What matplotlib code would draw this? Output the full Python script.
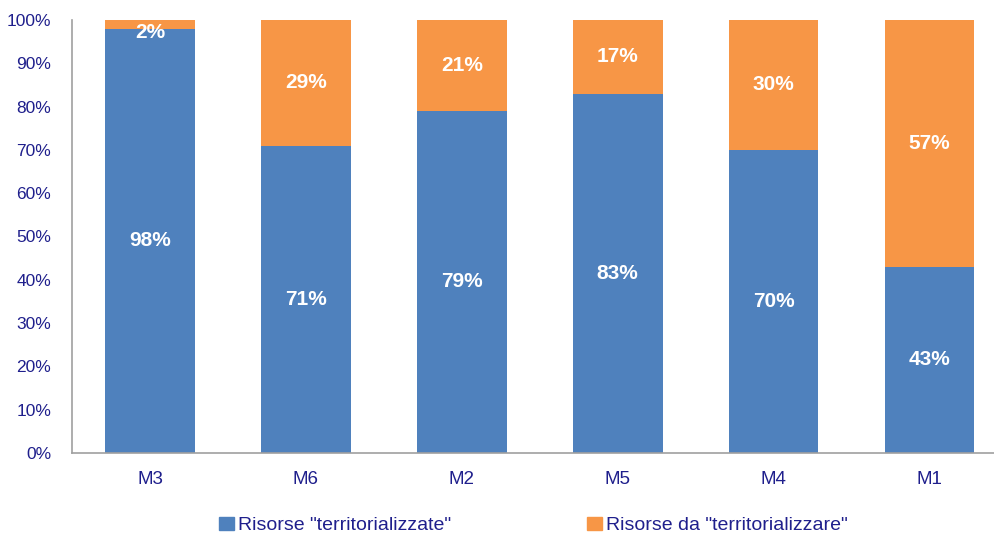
import numpy as np
import matplotlib.pyplot as plt
from matplotlib.patches import Patch

plt.rcParams['font.family'] = ['Liberation Sans', 'DejaVu Sans']

missions = ['M3', 'M6', 'M2', 'M5', 'M4', 'M1']
territorializzate = [98, 71, 79, 83, 70, 43]
da_territorializzare = [2, 29, 21, 17, 30, 57]

blue = '#4F81BD'
orange = '#F79646'
navy = '#1F1F8C'

fig = plt.figure(figsize=(9.95, 5.33), dpi=100)
ax = fig.add_axes([72 / 995, 80 / 533, (995 - 72) / 995, 433 / 533])

x = np.arange(len(missions))
width = 0.575
b1 = ax.bar(x, territorializzate, width, color=blue)
b2 = ax.bar(x, da_territorializzare, width, bottom=territorializzate, color=orange)

# white percentage labels in the middle of each segment
for xi, lo, hi in zip(x, territorializzate, da_territorializzare):
    ax.text(xi, lo / 2, '%d%%' % lo, ha='center', va='center',
            color='white', fontsize=15, fontweight='bold')
    ax.text(xi, min(lo + hi / 2, 97.2), '%d%%' % hi, ha='center', va='center',
            color='white', fontsize=15, fontweight='bold')

ax.set_xlim(-0.5, 5.42)
ax.set_ylim(0, 100)
ax.set_yticks(np.arange(0, 101, 10))
ax.set_yticklabels(['%d%%' % v for v in range(0, 101, 10)])
ax.set_xticks(x)
ax.set_xticklabels(missions)
ax.tick_params(axis='y', length=0, pad=15, labelsize=12.5, labelcolor=navy)
ax.tick_params(axis='x', length=0, pad=13, labelsize=13.5, labelcolor=navy)

for side in ['top', 'right']:
    ax.spines[side].set_visible(False)
for side in ['left', 'bottom']:
    ax.spines[side].set_color('#A0A0A0')
    ax.spines[side].set_linewidth(1.2)

handles = [Patch(color=blue), Patch(color=orange)]
fig.legend(handles, ['Risorse "territorializzate"', 'Risorse da "territorializzare"'],
           loc='center', bbox_to_anchor=(0.536, 0.014), ncol=2, frameon=False,
           fontsize=14, labelcolor=navy, handlelength=0.75, handleheight=0.7,
           handletextpad=0.2, columnspacing=7.0, borderpad=0)

fig.savefig('out.png', dpi=100)
